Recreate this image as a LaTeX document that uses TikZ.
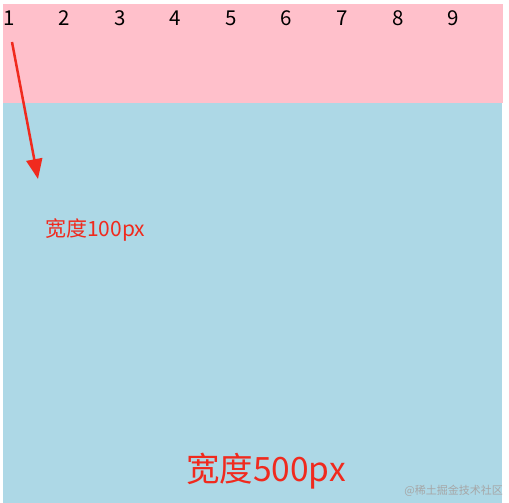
\documentclass[tikz,border=0pt]{standalone}
\usepackage{fontspec}
\setmainfont{Noto Sans CJK SC}
\usetikzlibrary{arrows.meta}
\definecolor{boxpink}{HTML}{FFC0CB}
\definecolor{boxblue}{HTML}{ADD8E6}
\definecolor{marktext}{HTML}{F02A1E}
\begin{document}
\begin{tikzpicture}[x=1pt,y=-1pt]
			\useasboundingbox (0,0) rectangle (509,503);
			\fill[boxblue] (3,103) rectangle (502,503);
			\fill[boxpink] (3,4) rectangle (503,103);
			\foreach \n in {1,...,9}
				\draw ({3+(\n-1)*500/9},18) node[anchor=west,inner sep=0pt,font=\fontsize{20.5}{20.5}\selectfont] (num\n) {\n};
			\coordinate (tail) at (12,42);
			\coordinate (head) at (38,179);
			\draw[marktext,line width=2.5pt,-{Triangle[length=20pt,width=16pt]}] (tail) -- (head);
			\draw (45,230) node[marktext,anchor=west,inner sep=0pt,font=\fontsize{21}{21}\selectfont] (small) {宽度100px};
			\draw (266,471) node[marktext,inner sep=0pt,font=\fontsize{33.5}{33.5}\selectfont] (big) {宽度500px};
			\draw (503,491) node[gray!70,anchor=east,inner sep=0pt,font=\fontsize{11}{11}\selectfont] (mark) {@稀土掘金技术社区};
		\end{tikzpicture}
\end{document}
